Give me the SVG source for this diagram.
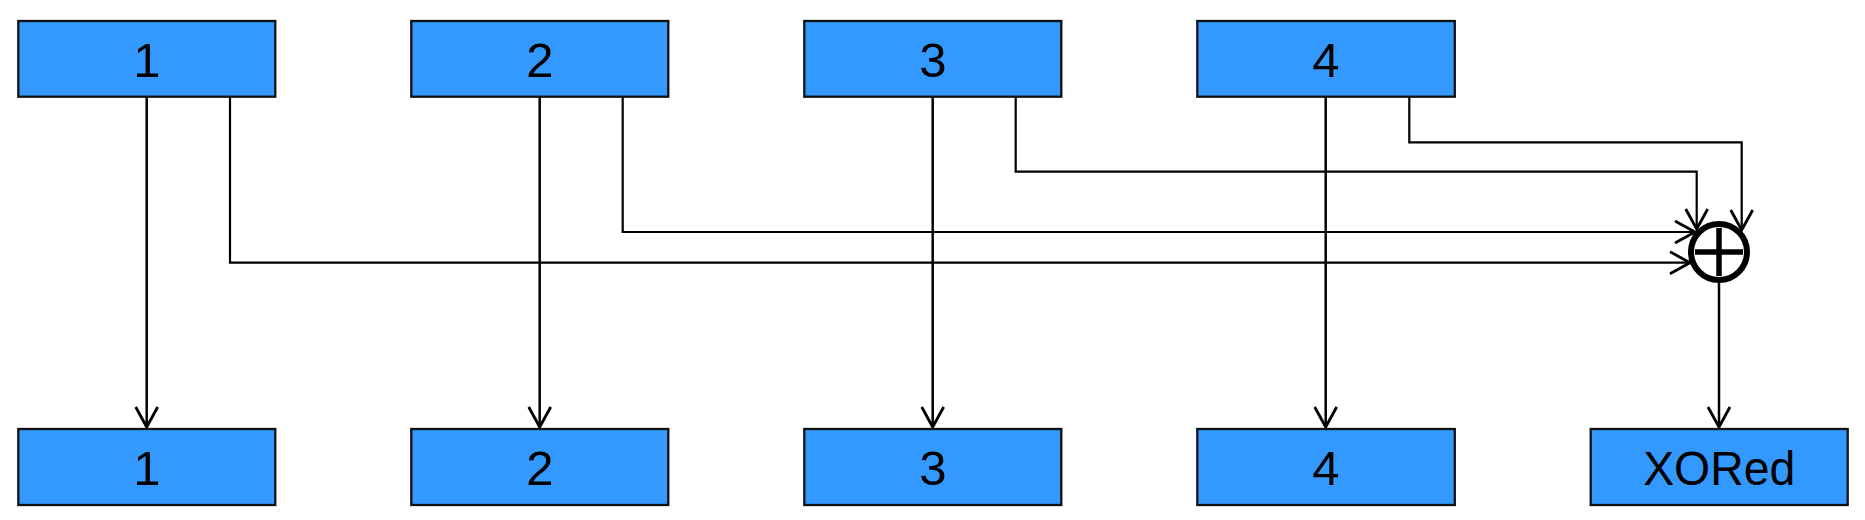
<svg xmlns="http://www.w3.org/2000/svg" width="1865" height="520" viewBox="0 0 1865 520">
<style>
.box{fill:#3399ff;stroke:#111;stroke-width:2.3}
.lbl{font-family:"Liberation Sans",Arial,sans-serif;font-size:49px;fill:#000;text-anchor:middle}
.main{fill:none;stroke:#000;stroke-width:2.5}
.br{fill:none;stroke:#000;stroke-width:2.2}
</style>
<defs>
<marker id="arr" markerUnits="userSpaceOnUse" markerWidth="28" markerHeight="28" viewBox="-24 -14 26 28" refX="0" refY="0" orient="auto">
<path d="M-20,-11 L0,0 L-20,11" fill="none" stroke="#000" stroke-width="2.8"/>
</marker>
</defs>
<rect width="1865" height="520" fill="#fff"/>
<g id="connectors">
<line class="main" x1="146.7" y1="97" x2="146.7" y2="427" marker-end="url(#arr)"/>
<line class="main" x1="539.7" y1="97" x2="539.7" y2="427" marker-end="url(#arr)"/>
<line class="main" x1="932.7" y1="97" x2="932.7" y2="427" marker-end="url(#arr)"/>
<line class="main" x1="1325.7" y1="97" x2="1325.7" y2="427" marker-end="url(#arr)"/>
<polyline class="br" points="230,97 230,262.7 1690,262.7" marker-end="url(#arr)"/>
<polyline class="br" points="622.7,97 622.7,232 1695,232" marker-end="url(#arr)"/>
<polyline class="br" points="1015.7,97 1015.7,171.7 1696.7,171.7 1696.7,229" marker-end="url(#arr)"/>
<polyline class="br" points="1409.3,97 1409.3,142.3 1741.7,142.3 1741.7,230" marker-end="url(#arr)"/>
<line class="main" x1="1719" y1="283" x2="1719" y2="427" marker-end="url(#arr)"/>
</g>
<g id="xor">
<circle cx="1719" cy="252" r="28" fill="#fff" stroke="#000" stroke-width="6"/>
<line x1="1695" y1="252" x2="1743" y2="252" stroke="#000" stroke-width="5.5"/>
<line x1="1719" y1="228" x2="1719" y2="276" stroke="#000" stroke-width="5.5"/>
</g>
<g id="top1"><rect class="box" x="18.3" y="21" width="257" height="75.7"/><text class="lbl" x="146.8" y="76.7">1</text></g>
<g id="top2"><rect class="box" x="411.3" y="21" width="257" height="75.7"/><text class="lbl" x="539.8" y="76.7">2</text></g>
<g id="top3"><rect class="box" x="804.3" y="21" width="257" height="75.7"/><text class="lbl" x="932.8" y="76.7">3</text></g>
<g id="top4"><rect class="box" x="1197.3" y="21" width="257.5" height="75.7"/><text class="lbl" x="1326" y="76.7">4</text></g>
<g id="bot1"><rect class="box" x="18.3" y="429" width="257" height="76"/><text class="lbl" x="146.8" y="485">1</text></g>
<g id="bot2"><rect class="box" x="411.3" y="429" width="257" height="76"/><text class="lbl" x="539.8" y="485">2</text></g>
<g id="bot3"><rect class="box" x="804.3" y="429" width="257" height="76"/><text class="lbl" x="932.8" y="485">3</text></g>
<g id="bot4"><rect class="box" x="1197.3" y="429" width="257.5" height="76"/><text class="lbl" x="1326" y="485">4</text></g>
<g id="xored"><rect class="box" x="1590.7" y="429" width="257" height="76"/><text class="lbl" x="1719.2" y="485" textLength="152" lengthAdjust="spacingAndGlyphs">XORed</text></g>
</svg>
